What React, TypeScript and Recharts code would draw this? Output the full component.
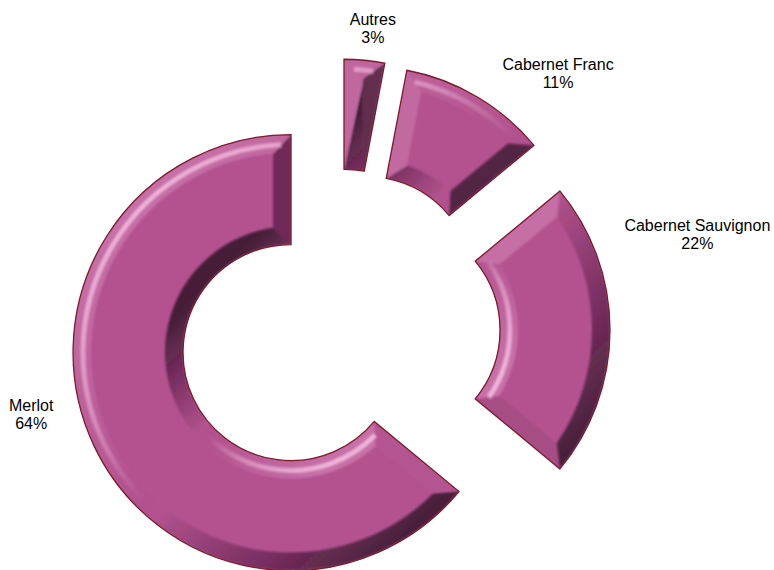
import { PieChart, Pie, Tooltip } from 'recharts';

const categories = ['Merlot', 'Cabernet Sauvignon', 'Cabernet Franc', 'Autres'];
const shares = [64, 22, 11, 3];

const data = categories.map((name, i) => ({ name, value: shares[i] }));

// label placement around the pie centre (angle in degrees, distance in px)
const labelAngles = [195.2, 15, 49.6, 83.6];
const labelRadii = [319, 371, 338, 304];

const RAD = Math.PI / 180;
const EXPLODE = 53;
const BEVEL = 18;
const LIGHT = 135;
const BASE = '#b3528f';
const HI = '#eeaad6';
const DARK = '#2a0c22';
const EDGE = '#7d1c2c';

type P = [number, number];
const pt = (cx: number, cy: number, r: number, a: number): P => [cx + r * Math.cos(-a * RAD), cy + r * Math.sin(-a * RAD)];
const f = (p: P) => `${p[0].toFixed(2)},${p[1].toFixed(2)}`;

function BevelSector(props: any) {
  const { startAngle: s, endAngle: e, innerRadius: r, outerRadius: R } = props;
  const idx = props.index ?? categories.indexOf(props.name ?? props.payload?.name);
  const mid = (s + e) / 2;
  const cx = props.cx + EXPLODE * Math.cos(-mid * RAD);
  const cy = props.cy + EXPLODE * Math.sin(-mid * RAD);
  const span = e - s;
  const half = span / 2;
  const large = span > 180 ? 1 : 0;
  const ro = R - BEVEL;
  const ri = r + BEVEL;
  const dO = Math.asin(Math.min(1, BEVEL / ro)) / RAD;
  const dI = Math.asin(Math.min(1, BEVEL / ri)) / RAD;
  const rho0 = BEVEL / Math.sin(half * RAD);
  const outerCol = dO >= half;
  const innerCol = dI >= half;
  const Os = outerCol ? pt(cx, cy, rho0, mid) : pt(cx, cy, ro, s + dO);
  const Oe = outerCol ? Os : pt(cx, cy, ro, e - dO);
  const Is = innerCol ? pt(cx, cy, rho0, mid) : pt(cx, cy, ri, s + dI);
  const Ie = innerCol ? Is : pt(cx, cy, ri, e - dI);
  const largeO = span - 2 * dO > 180 ? 1 : 0;
  const largeI = span - 2 * dI > 180 ? 1 : 0;

  const Rs = pt(cx, cy, R, s);
  const Re = pt(cx, cy, R, e);
  const rs = pt(cx, cy, r, s);
  const re = pt(cx, cy, r, e);

  const base = `M${f(Rs)} A${R},${R} 0 ${large} 0 ${f(Re)} L${f(re)} A${r},${r} 0 ${large} 1 ${f(rs)} Z`;
  const outerBand = `M${f(Rs)} A${R},${R} 0 ${large} 0 ${f(Re)} L${f(Oe)}` +
    (outerCol ? '' : ` A${ro},${ro} 0 ${largeO} 1 ${f(Os)}`) + ' Z';
  const innerBand = `M${f(rs)} A${r},${r} 0 ${large} 0 ${f(re)} L${f(Ie)}` +
    (innerCol ? '' : ` A${ri},${ri} 0 ${largeI} 1 ${f(Is)}`) + ' Z';
  const startEdge = `M${f(Rs)} L${f(Os)} L${f(Is)} L${f(rs)} Z`;
  const endEdge = `M${f(Re)} L${f(Oe)} L${f(Ie)} L${f(re)} Z`;

  // soft highlight lines along the curved bevels
  const rm = R - BEVEL * 0.55;
  const dm = Math.asin(Math.min(1, (BEVEL * 0.55) / rm)) / RAD;
  const hlOuter = `M${f(pt(cx, cy, rm, s + dm))} A${rm},${rm} 0 ${span - 2 * dm > 180 ? 1 : 0} 0 ${f(pt(cx, cy, rm, e - dm))}`;
  const rim = r + BEVEL * 0.55;
  const dim = Math.asin(Math.min(1, (BEVEL * 0.55) / rim)) / RAD;
  const hlInner = span - 2 * dim > 0
    ? `M${f(pt(cx, cy, rim, s + dim))} A${rim},${rim} 0 ${span - 2 * dim > 180 ? 1 : 0} 0 ${f(pt(cx, cy, rim, e - dim))}`
    : '';

  const Lx = Math.cos(-LIGHT * RAD);
  const Ly = Math.sin(-LIGHT * RAD);
  const shade = (normal: number) => {
    const k = Math.cos((normal - LIGHT) * RAD);
    return k > 0 ? { fill: HI, fillOpacity: 0.32 * k } : { fill: DARK, fillOpacity: 0.7 * -k };
  };
  const id = `bv${idx}`;

  return (
    <g>
      <defs>
        <clipPath id={`${id}c`}>
          <path d={base} />
        </clipPath>
        <filter id={`${id}f`} x="-10%" y="-10%" width="120%" height="120%">
          <feGaussianBlur stdDeviation={1.3} />
        </filter>
        <linearGradient id={`${id}o`} gradientUnits="userSpaceOnUse" x1={cx + R * Lx} y1={cy + R * Ly} x2={cx - R * Lx} y2={cy - R * Ly}>
          <stop offset="0" stopColor={HI} stopOpacity={0.35} />
          <stop offset="0.4" stopColor={HI} stopOpacity={0.05} />
          <stop offset="0.55" stopColor={DARK} stopOpacity={0} />
          <stop offset="1" stopColor={DARK} stopOpacity={0.8} />
        </linearGradient>
        <linearGradient id={`${id}i`} gradientUnits="userSpaceOnUse" x1={cx - r * Lx} y1={cy - r * Ly} x2={cx + r * Lx} y2={cy + r * Ly}>
          <stop offset="0" stopColor={HI} stopOpacity={0.35} />
          <stop offset="0.4" stopColor={HI} stopOpacity={0.05} />
          <stop offset="0.55" stopColor={DARK} stopOpacity={0} />
          <stop offset="1" stopColor={DARK} stopOpacity={0.8} />
        </linearGradient>
        <linearGradient id={`${id}ho`} gradientUnits="userSpaceOnUse" x1={cx + R * Lx} y1={cy + R * Ly} x2={cx - R * Lx} y2={cy - R * Ly}>
          <stop offset="0" stopColor="#f4bfe2" stopOpacity={0.85} />
          <stop offset="0.3" stopColor="#f4bfe2" stopOpacity={0.45} />
          <stop offset="0.5" stopColor="#f4bfe2" stopOpacity={0} />
        </linearGradient>
        <linearGradient id={`${id}hi`} gradientUnits="userSpaceOnUse" x1={cx - r * Lx} y1={cy - r * Ly} x2={cx + r * Lx} y2={cy + r * Ly}>
          <stop offset="0" stopColor="#f4bfe2" stopOpacity={0.85} />
          <stop offset="0.3" stopColor="#f4bfe2" stopOpacity={0.45} />
          <stop offset="0.5" stopColor="#f4bfe2" stopOpacity={0} />
        </linearGradient>
      </defs>
      <path d={base} fill={BASE} />
      <g clipPath={`url(#${id}c)`}>
        <g filter={`url(#${id}f)`}>
          <path d={outerBand} fill={`url(#${id}o)`} />
          <path d={innerBand} fill={`url(#${id}i)`} />
          <path d={startEdge} {...shade(s - 90)} />
          <path d={endEdge} {...shade(e + 90)} />
          <path d={hlOuter} fill="none" stroke={`url(#${id}ho)`} strokeWidth={5} />
          {hlInner && <path d={hlInner} fill="none" stroke={`url(#${id}hi)`} strokeWidth={5} />}
        </g>
      </g>
      <path d={base} fill="none" stroke={EDGE} strokeWidth={1.3} strokeLinejoin="miter" />
    </g>
  );
}

function renderLabel(props: any) {
  const i = props.index ?? categories.indexOf(props.name);
  const [x, y] = pt(props.cx, props.cy, labelRadii[i], labelAngles[i]);
  return (
    <text x={x} y={y - 3} textAnchor="middle" fontFamily="'Liberation Sans', Arial, sans-serif" fontSize={16} fill="#000">
      <tspan x={x}>{categories[i]}</tspan>
      <tspan x={x} dy={18}>{`${Math.round(props.percent * 100)}%`}</tspan>
    </text>
  );
}

export default function App() {
  return (
    <div style={{ position: 'absolute', left: 0, top: 0, background: '#fff' }}>
      <PieChart width={774} height={570} margin={{ top: 0, right: 0, bottom: 0, left: 0 }}>
        <Pie
          data={data}
          dataKey="value"
          nameKey="name"
          cx={339}
          cy={330}
          innerRadius={108}
          outerRadius={218}
          startAngle={90}
          endAngle={450}
          stroke="none"
          shape={BevelSector}
          activeShape={BevelSector}
          inactiveShape={BevelSector}
          label={renderLabel}
          labelLine={false}
          isAnimationActive={false}
        />
        <Tooltip defaultIndex={0} content={() => null} cursor={false} />
      </PieChart>
    </div>
  );
}
